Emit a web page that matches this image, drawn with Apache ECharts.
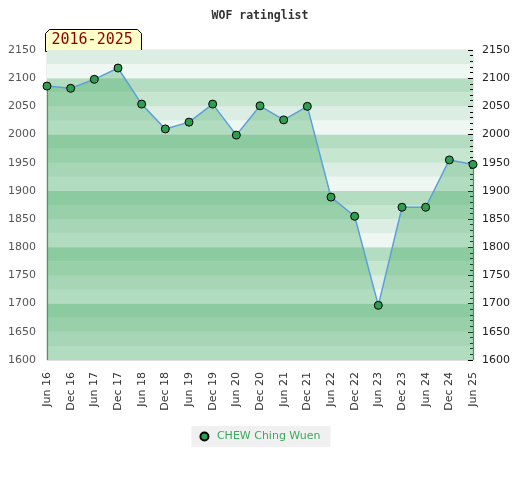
<!DOCTYPE html>
<html>
<head>
<meta charset="utf-8">
<script src="https://cdn.jsdelivr.net/npm/echarts@6/dist/echarts.min.js"></script>
<style>
  html, body { margin: 0; padding: 0; background: #fff; }
  #main { width: 520px; height: 480px; }
</style>
</head>
<body>
<div id="main"></div>
<script>
var categories = ['Jun 16', 'Dec 16', 'Jun 17', 'Dec 17', 'Jun 18', 'Dec 18', 'Jun 19', 'Dec 19',
  'Jun 20', 'Dec 20', 'Jun 21', 'Dec 21', 'Jun 22', 'Dec 22', 'Jun 23', 'Dec 23', 'Jun 24',
  'Dec 24', 'Jun 25'];
var ratings = [2086, 2082, 2098, 2118, 2054, 2010, 2022, 2054, 1999, 2051, 2026, 2050,
  1889, 1855, 1697, 1871, 1871, 1955, 1947];
var playerName = 'CHEW Ching Wuen';
var periodLabel = '2016-2025';
var yMin = 1600;
var yMax = 2150;

var myChart = echarts.init(document.getElementById('main'));

// bands: 4 shades per 100 points
var bandColors = ['#eef7f1', '#dceee3', '#c6e6d0', '#b3dcc0'];
var labelFont = { fontFamily: 'DejaVu Sans', fontSize: 11 };
var plain = function (v) { return String(v); };

var option = {
  animation: false,
  title: {
    text: 'WOF ratinglist',
    left: 'center',
    top: 5,
    textStyle: { fontFamily: 'DejaVu Sans Mono', fontSize: 11.5, fontWeight: 'bold', color: '#333' }
  },
  grid: {
    left: 47, right: 47, top: 50, bottom: 120,
    show: true, borderColor: '#ddd', borderWidth: 1, backgroundColor: 'transparent'
  },
  legend: {
    bottom: 33,
    left: 'center',
    data: [playerName],
    backgroundColor: '#f0f0f0',
    padding: [5, 10, 5, 8],
    itemWidth: 8,
    itemHeight: 8,
    icon: 'circle',
    formatter: function (name) { return ' ' + name; },
    textStyle: { fontFamily: 'DejaVu Sans', fontSize: 11, color: '#3aaa5c' }
  },
  xAxis: {
    type: 'category',
    data: categories,
    boundaryGap: false,
    axisLine: { show: false },
    axisTick: { show: false },
    axisLabel: Object.assign({ rotate: 90, color: '#333', margin: 12, interval: 0 }, labelFont)
  },
  yAxis: [
    {
      type: 'value', position: 'left', min: yMin, max: yMax, interval: 50,
      axisLine: { show: false }, axisTick: { show: false },
      axisLabel: Object.assign({ color: '#555', margin: 11, formatter: plain }, labelFont),
      splitLine: { show: true, lineStyle: { color: 'rgba(0,0,0,0.07)' } }
    },
    {
      type: 'value', position: 'right', min: yMin, max: yMax, interval: 50,
      axisLine: { show: false },
      axisTick: { show: true, inside: true, length: 5, lineStyle: { color: '#000' } },
      minorTick: { show: true, splitNumber: 5, length: 3, lineStyle: { color: '#000' } },
      axisLabel: Object.assign({ color: '#222', margin: 9, formatter: plain }, labelFont),
      splitLine: { show: false }
    },
    {
      type: 'value', position: 'left', min: yMin, max: yMax, interval: 25,
      axisLine: { show: false }, axisTick: { show: false }, axisLabel: { show: false },
      splitLine: { show: false },
      splitArea: { show: true, areaStyle: { color: bandColors } }
    }
  ],
  series: [{
    name: playerName,
    type: 'line',
    data: ratings,
    symbol: 'circle',
    symbolSize: 8,
    z: 5,
    lineStyle: { color: '#5ca0d8', width: 1.5 },
    itemStyle: { color: '#2e9e50', borderColor: '#000', borderWidth: 1 },
    areaStyle: { color: 'rgba(68,171,99,0.5)', origin: 'start' },
    markLine: {
      silent: true,
      symbol: 'none',
      label: { show: false },
      lineStyle: { color: '#3a9a55', width: 1.2, type: 'solid' },
      data: [
        [{ coord: [categories[0], ratings[0]] }, { coord: [categories[0], yMin] }],
        [{ coord: [categories[categories.length - 1], ratings[ratings.length - 1]] },
         { coord: [categories[categories.length - 1], yMin] }]
      ]
    }
  }],
  graphic: [{
    type: 'group',
    left: 45,
    top: 29,
    children: [{
      type: 'polygon',
      shape: { points: [[0, 22], [0, 4], [4, 0], [92, 0], [96, 4], [96, 22]] },
      style: { fill: '#ffffc8', stroke: '#000', lineWidth: 1 }
    }, {
      type: 'text',
      left: 6,
      top: 3,
      style: { text: periodLabel, fill: '#8b0000', font: '15px "DejaVu Sans Mono"' }
    }]
  }]
};

myChart.setOption(option);
</script>
</body>
</html>
